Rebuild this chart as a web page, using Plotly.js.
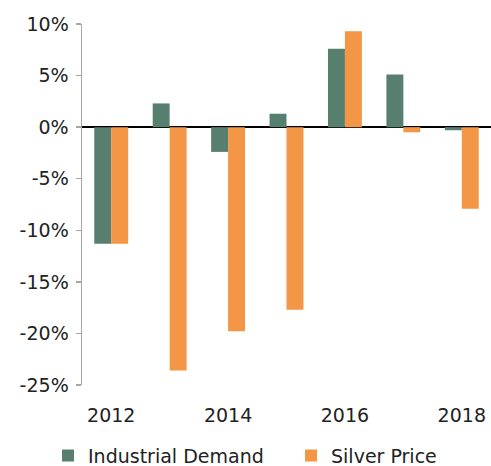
<!DOCTYPE html>
<html>
<head>
<meta charset="utf-8">
<script src="https://cdn.plot.ly/plotly-3.0.1.min.js"></script>
<style>html,body{margin:0;padding:0;background:#fff;}#chart{width:491px;height:466px;}</style>
</head>
<body>
<div id="chart"></div>
<script>
var years = [2012, 2013, 2014, 2015, 2016, 2017, 2018];
var industrialDemand = [-11.3, 2.3, -2.4, 1.3, 7.6, 5.1, -0.3];
var silverPrice = [-11.3, -23.6, -19.8, -17.7, 9.3, -0.5, -7.9];
var xTickVals = [2012, 2014, 2016, 2018];
var yTickVals = [10, 5, 0, -5, -10, -15, -20, -25];
var yTickText = ['10%', '5%', '0%', '-5%', '-10%', '-15%', '-20%', '-25%'];

var fontFam = 'DejaVu Sans, sans-serif';
var data = [
  {type: 'bar', name: 'Industrial Demand', x: years, y: industrialDemand,
   marker: {color: '#567F70'}, legend: 'legend'},
  {type: 'bar', name: 'Silver Price', x: years, y: silverPrice,
   marker: {color: '#F39646'}, legend: 'legend2'}
];
var legFont = {family: fontFam, size: 19, color: '#222'};
var layout = {
  width: 491, height: 466,
  margin: {l: 82, r: 0, t: 24, b: 81},
  paper_bgcolor: '#fff', plot_bgcolor: '#fff',
  barmode: 'group', bargap: 0.42, bargroupgap: 0,
  font: {family: fontFam, size: 19, color: '#222'},
  showlegend: true,
  legend: {orientation: 'h', xref: 'container', yref: 'container',
           x: 0.0978, xanchor: 'left', y: 0.022, yanchor: 'middle', font: legFont},
  legend2: {orientation: 'h', xref: 'container', yref: 'container',
           x: 0.5927, xanchor: 'left', y: 0.022, yanchor: 'middle', font: legFont},
  xaxis: {range: [2011.5, 2018.5], tickvals: xTickVals, ticktext: xTickVals.map(String),
          showline: false, showgrid: false, zeroline: false,
          ticks: 'outside', ticklen: 13, tickcolor: 'rgba(0,0,0,0)',
          tickfont: {family: fontFam, size: 19, color: '#222'}},
  yaxis: {range: [-25, 10], tickvals: yTickVals, ticktext: yTickText,
          showline: true, linecolor: '#A6A6A6', linewidth: 1.5,
          ticks: 'outside', ticklen: 5, tickcolor: '#A6A6A6', tickwidth: 1.5,
          ticklabelstandoff: 3,
          showgrid: false, zeroline: true, zerolinecolor: '#000', zerolinewidth: 1.5,
          tickfont: {family: fontFam, size: 19, color: '#222'}}
};
Plotly.newPlot('chart', data, layout, {displayModeBar: false, staticPlot: true});
</script>
</body>
</html>
